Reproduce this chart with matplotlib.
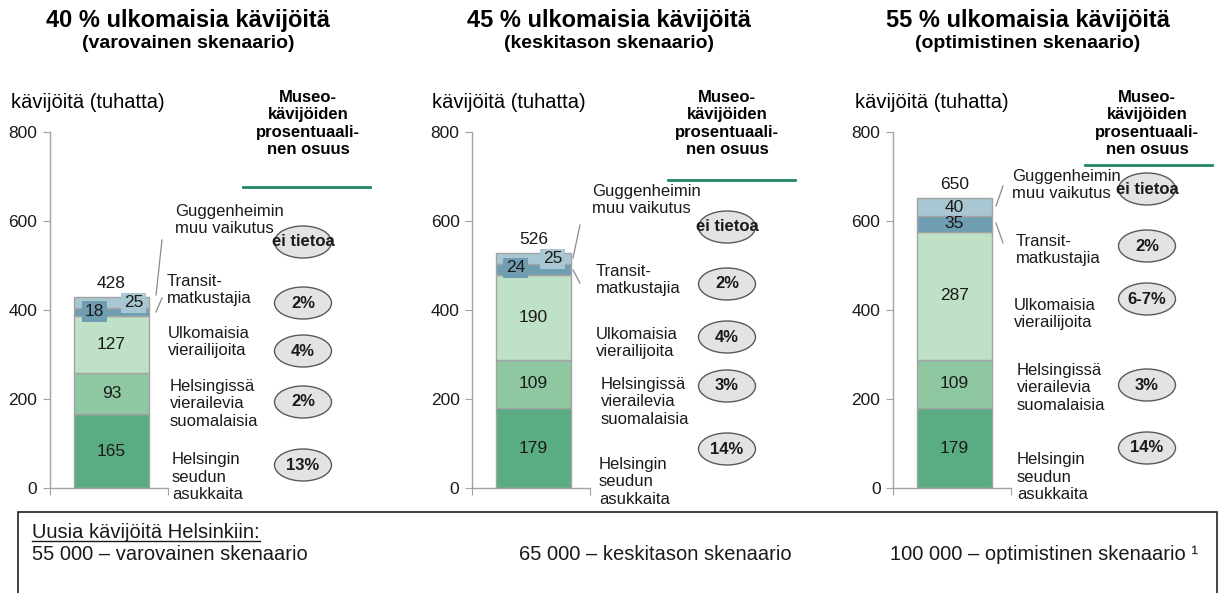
"""Guggenheim Helsinki visitor scenarios: three stacked bars with share callouts."""

import matplotlib
matplotlib.use("Agg")
import matplotlib.pyplot as plt
from matplotlib.lines import Line2D
from matplotlib.patches import Ellipse, Rectangle

plt.rcParams["font.family"] = ["Liberation Sans", "DejaVu Sans"]

# --- data -------------------------------------------------------------------
titles = ["40 % ulkomaisia kävijöitä", "45 % ulkomaisia kävijöitä", "55 % ulkomaisia kävijöitä"]
subtitles = ["(varovainen skenaario)", "(keskitason skenaario)", "(optimistinen skenaario)"]

segment_names = [
    "Helsingin\nseudun\nasukkaita",
    "Helsingissä\nvierailevia\nsuomalaisia",
    "Ulkomaisia\nvierailijoita",
    "Transit-\nmatkustajia",
    "Guggenheimin\nmuu vaikutus",
]
residents = [165, 179, 179]
finnish_visitors = [93, 109, 109]
foreign_visitors = [127, 190, 287]
transit = [18, 24, 35]
other_effect = [25, 25, 40]
totals = [428, 526, 650]

# share of museum visitors, same order as segment_names
shares = [
    ["13%", "2%", "4%", "2%", "ei tietoa"],
    ["14%", "3%", "4%", "2%", "ei tietoa"],
    ["14%", "3%", "6-7%", "2%", "ei tietoa"],
]
share_header = "Museo-\nkävijöiden\nprosentuaali-\nnen osuus"
y_label = "kävijöitä (tuhatta)"
y_ticks = [0, 200, 400, 600, 800]

box_title = "Uusia kävijöitä Helsinkiin:"
new_visitors = [
    "55 000 – varovainen skenaario",
    "65 000 – keskitason skenaario",
    "100 000 – optimistinen skenaario ¹",
]

# --- layout (pixels) ----------------------------------------------------------
W, H = 1220, 593
colors = ["#5aad82", "#8fc7a1", "#bfe2c7", "#6f9db2", "#a9c7d2"]
edge = "#a3a3a3"
green_line = "#1f8a5f"

ax_left = [50, 472, 893]
title_x = [188, 609, 1028]
ylabel_x = [11, 432, 855]
header_x = [308, 727, 1147]
header_line = [(243, 370, 187), (668, 795, 180), (1085, 1212, 165)]
ellipse_x = [303, 727, 1147]
ellipse_y = [
    [465, 402, 351, 303, 242],
    [449, 386, 337, 284, 227],
    [448, 385, 299, 246, 189],
]
name_pos = [
    [(172, 477), (170, 404), (168, 342), (167, 290), (175, 220)],
    [(599, 482), (601, 402), (596, 343), (596, 280), (592, 200)],
    [(1017, 477), (1017, 388), (1014, 314), (1016, 250), (1012, 185)],
]
leaders = [
    [((156, 295), (162, 240)), ((156, 312), (162, 298))],
    [((573, 258), (580, 225)), ((573, 270), (580, 283))],
    [((996, 206), (1003, 186)), ((996, 223), (1003, 243))],
]
# pixel offsets of the two small value labels (transit, other); boxed in panels 1-2
small_offsets = [[(-17, -1), (22, 0)], [(-18, -2), (19, 0)], [(0, 0), (0, 0)]]
small_boxed = [True, True, False]


def fx(x):
    return x / W


def fy(y):
    return 1 - y / H


fig = plt.figure(figsize=(W / 100, H / 100), dpi=100)
fig.patch.set_facecolor("white")

y_top, y_bot = 131.5, 488
for i in range(3):
    ax = fig.add_axes([fx(ax_left[i]), fy(y_bot), 118 / W, (y_bot - y_top) / H])
    vals = [residents[i], finnish_visitors[i], foreign_visitors[i], transit[i], other_effect[i]]
    bottom = 0
    for k, v in enumerate(vals):
        ax.bar(0.52, v, bottom=bottom, width=0.64, color=colors[k], edgecolor=edge, lw=1.0)
        mid = bottom + v / 2
        if k < 3:
            ax.text(0.52, mid, str(v), ha="center", va="center", fontsize=12.5, color="#1a1a1a")
        else:
            dx, dy = small_offsets[i][k - 3]
            bbox = None
            if small_boxed[i]:
                bbox = dict(boxstyle="square,pad=0.15", facecolor=colors[k], edgecolor="none")
            ax.annotate(str(v), (0.52, mid), xytext=(dx, -dy), textcoords="offset pixels",
                        ha="center", va="center", fontsize=12.5, color="#1a1a1a", bbox=bbox)
        bottom += v
    ax.annotate(str(totals[i]), (0.52, bottom), xytext=(0, 14), textcoords="offset pixels",
                ha="center", va="center", fontsize=12.5, color="#1a1a1a")

    ax.set_xlim(0, 1)
    ax.set_ylim(0, 800)
    ax.set_yticks(y_ticks)
    ax.set_xticks([0, 1])
    ax.set_xticklabels([])
    ax.tick_params(axis="y", labelsize=12.5, length=5, color=edge, labelcolor="#1a1a1a", pad=4)
    ax.tick_params(axis="x", length=5, color=edge)
    for s in ["top", "right"]:
        ax.spines[s].set_visible(False)
    for s in ["left", "bottom"]:
        ax.spines[s].set_color(edge)
        ax.spines[s].set_linewidth(1.0)
    ax.patch.set_alpha(0)

    # titles and axis label
    fig.text(fx(title_x[i]), fy(20), titles[i], ha="center", va="center",
             fontsize=17, fontweight="bold")
    fig.text(fx(title_x[i]), fy(44), subtitles[i], ha="center", va="center",
             fontsize=14, fontweight="bold")
    fig.text(fx(ylabel_x[i]), fy(102), y_label, ha="left", va="center", fontsize=14.5)

    # share header with green rule
    fig.text(fx(header_x[i]), fy(123.5), share_header, ha="center", va="center",
             fontsize=12, fontweight="bold")
    x0, x1, yl = header_line[i]
    fig.add_artist(Line2D([fx(x0), fx(x1)], [fy(yl), fy(yl)], color=green_line, lw=2.0))

    # segment names, leader lines, share ellipses
    for k, name in enumerate(segment_names):
        nx, ny = name_pos[i][k]
        fig.text(fx(nx), fy(ny), name, ha="left", va="center", fontsize=12, color="#1a1a1a")
        ex, ey = ellipse_x[i], ellipse_y[i][k]
        fig.add_artist(Ellipse((fx(ex), fy(ey)), 57 / W, 32 / H, facecolor="#e3e3e3",
                               edgecolor="#5a5a5a", lw=1.0))
        fig.text(fx(ex), fy(ey), shares[i][k], ha="center", va="center",
                 fontsize=12, fontweight="bold", color="#1a1a1a")
    for (p0, p1) in leaders[i]:
        fig.add_artist(Line2D([fx(p0[0]), fx(p1[0])], [fy(p0[1]), fy(p1[1])],
                              color="#8a8a8a", lw=0.9))

# bottom box with new-visitor figures
fig.add_artist(Rectangle((fx(18), fy(620)), (1217 - 18) / W, (620 - 512) / H,
                         facecolor="none", edgecolor="#222222", lw=1.2, clip_on=False))
fig.text(fx(32), fy(532), box_title, ha="left", va="center", fontsize=14.5, color="#1a1a1a")
fig.add_artist(Line2D([fx(32), fx(260)], [fy(541), fy(541)], color="#1a1a1a", lw=1.0))
for x, txt in zip([32, 519, 890], new_visitors):
    fig.text(fx(x), fy(555), txt, ha="left", va="center", fontsize=14.5, color="#1a1a1a")

fig.savefig("out.png", dpi=100, facecolor="white")
